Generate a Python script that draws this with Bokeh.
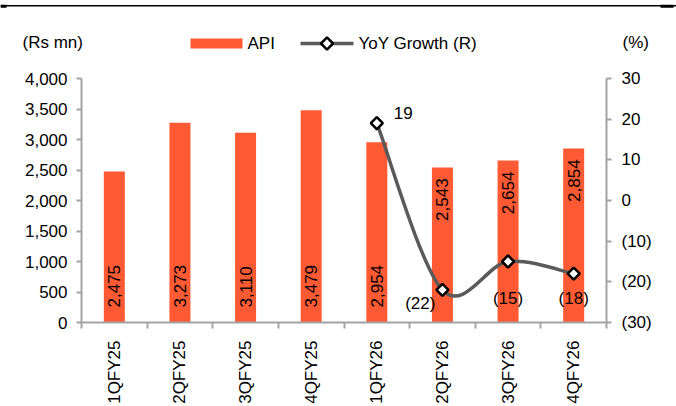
import math

from bokeh.core.properties import value
from bokeh.embed import file_html
from bokeh.layouts import column
from bokeh.models import (ColumnDataSource, FixedTicker, Label, LinearAxis,
                          NumeralTickFormatter, Range1d, Span)
from bokeh.plotting import figure
from bokeh.resources import INLINE

# ---- data -------------------------------------------------------------
quarters = ["1QFY25", "2QFY25", "3QFY25", "4QFY25", "1QFY26", "2QFY26", "3QFY26", "4QFY26"]
api_sales = [2475, 3273, 3110, 3479, 2954, 2543, 2654, 2854]          # Rs mn
yoy_quarters = ["1QFY26", "2QFY26", "3QFY26", "4QFY26"]
yoy_growth = [19, -22, -15, -18]                                       # %
left_ticks = [0, 500, 1000, 1500, 2000, 2500, 3000, 3500, 4000]
right_ticks = [-30, -20, -10, 0, 10, 20, 30]

# ---- style ------------------------------------------------------------
FONT = "Liberation Sans"
FS = "17px"
ORANGE = "#FF5A33"
LINE_GREY = "#5A5A5A"
AXIS_GREY = "#A3A3A3"
BAR_W = 0.32
LINE_W = 3.5
MARK = dict(marker="square", angle=math.pi / 4, size=8.5, fill_color="white",
            line_color="black", line_width=2.5)

W = 676
HEAD_H = 60                      # header strip: rule, unit captions, legend
H = 406 - HEAD_H                 # chart body
FL, FR, FT, FB = 81, 606, 18, 265

# ---- header strip (pixel coordinates, y downwards) -------------------------
head = figure(width=W, height=HEAD_H, output_backend="svg", toolbar_location=None,
              x_range=Range1d(0, W), y_range=Range1d(HEAD_H, 0),
              x_axis_location=None, y_axis_location=None, min_border=0)
head.frame_align = False
head.xgrid.visible = False
head.ygrid.visible = False
head.outline_line_color = None

# top rule with short heavier tabs at both ends
head.add_layout(Span(location=5.2, dimension="width", line_color="black", line_width=1.6))
head.quad(left=[0, 660], right=[6, 673], top=[4.3, 4.3], bottom=[7.3, 7.3],
          fill_color="black", line_color=None)


def head_text(x, y, s):
    head.add_layout(Label(x=x, y=y, text=s, text_font=FONT, text_font_size=FS,
                          text_baseline="middle", text_color="black"))


head_text(22, 42, "(Rs mn)")
head_text(622, 42, "(%)")

# legend keys, drawn with the same styles as the chart glyphs
head.quad(left=[190], right=[242], top=[38], bottom=[48], fill_color=ORANGE, line_color=None)
head_text(247, 43, "API")
head.segment(x0=[300], y0=[43], x1=[353], y1=[43], line_color=LINE_GREY, line_width=LINE_W)
head.scatter(x=[326.5], y=[43], **MARK)
head_text(358, 43, "YoY Growth (R)")

# ---- chart body -------------------------------------------------------------
p = figure(width=W, height=H, output_backend="svg", toolbar_location=None,
           x_range=Range1d(0, len(quarters)), y_range=Range1d(left_ticks[0], left_ticks[-1]),
           min_border_left=FL, min_border_right=W - FR, min_border_top=FT, min_border_bottom=H - FB)
p.frame_align = False
p.extra_y_ranges = {"pct": Range1d(right_ticks[0], right_ticks[-1])}
p.xgrid.visible = False
p.ygrid.visible = False
p.outline_line_color = None


def style_axis(ax):
    ax.axis_line_color = AXIS_GREY
    ax.axis_line_width = 2
    ax.major_tick_line_color = AXIS_GREY
    ax.major_tick_line_width = 2
    ax.minor_tick_line_color = AXIS_GREY
    ax.minor_tick_line_width = 2
    ax.major_tick_in = 0
    ax.minor_tick_in = 0
    ax.major_label_text_font = FONT
    ax.major_label_text_font_size = FS
    ax.major_label_text_color = "black"


# x axis: labels at bar centres, tick marks at category boundaries
centres = [i + 0.5 for i in range(len(quarters))]
xa = p.xaxis[0]
style_axis(xa)
xa.ticker = FixedTicker(ticks=centres, minor_ticks=list(range(len(quarters) + 1)))
xa.major_label_overrides = {c: q for c, q in zip(centres, quarters)}
xa.major_tick_out = 0
xa.minor_tick_out = 6
xa.major_label_orientation = math.pi / 2
xa.major_label_standoff = 12

# left axis: Rs mn
ya = p.yaxis[0]
style_axis(ya)
ya.ticker = FixedTicker(ticks=left_ticks, minor_ticks=[])
ya.formatter = NumeralTickFormatter(format="0,0")
ya.major_tick_out = 5
ya.minor_tick_out = 0
ya.major_label_standoff = 9

# right axis: %
ra = LinearAxis(y_range_name="pct")
style_axis(ra)
ra.ticker = FixedTicker(ticks=right_ticks, minor_ticks=[])
ra.major_label_overrides = {t: (f"({abs(t)})" if t < 0 else str(t)) for t in right_ticks}
ra.major_tick_out = 5
ra.minor_tick_out = 0
ra.major_label_standoff = 10
p.add_layout(ra, "right")

# ---- bars ---------------------------------------------------------------
bar_src = ColumnDataSource(dict(x=centres, top=api_sales))
p.vbar(x="x", top="top", width=BAR_W, source=bar_src, fill_color=ORANGE, line_color=None)

# value labels inside the bars: at the base, or near the top where the line passes low
label_at_top = [False, False, False, False, False, True, True, True]
bl = ColumnDataSource(dict(
    x=centres,
    y=[v if t else 0 for v, t in zip(api_sales, label_at_top)],
    text=[f"{v:,}" for v in api_sales],
    align=["right" if t else "left" for t in label_at_top],
    yoff=[11 if t else -15 for t in label_at_top],
))
p.text(x="x", y="y", text="text", source=bl, angle=math.pi / 2, text_align="align",
       text_baseline="middle", y_offset="yoff", text_font=value(FONT), text_font_size=FS,
       text_color="black")

# ---- smoothed YoY line (Catmull-Rom as cubic Beziers) -----------------
yx = [quarters.index(q) + 0.5 for q in yoy_quarters]
n = len(yx)
seg = dict(x0=[], y0=[], x1=[], y1=[], cx0=[], cy0=[], cx1=[], cy1=[])
for i in range(n - 1):
    a = max(i - 1, 0)
    d = min(i + 2, n - 1)
    seg["x0"].append(yx[i]); seg["y0"].append(yoy_growth[i])
    seg["x1"].append(yx[i + 1]); seg["y1"].append(yoy_growth[i + 1])
    seg["cx0"].append(yx[i] + (yx[i + 1] - yx[a]) / 6)
    seg["cy0"].append(yoy_growth[i] + (yoy_growth[i + 1] - yoy_growth[a]) / 6)
    seg["cx1"].append(yx[i + 1] - (yx[d] - yx[i]) / 6)
    seg["cy1"].append(yoy_growth[i + 1] - (yoy_growth[d] - yoy_growth[i]) / 6)
p.bezier(source=ColumnDataSource(seg), x0="x0", y0="y0", x1="x1", y1="y1",
         cx0="cx0", cy0="cy0", cx1="cx1", cy1="cy1", y_range_name="pct",
         line_color=LINE_GREY, line_width=LINE_W)

p.scatter(x=yx, y=yoy_growth, y_range_name="pct", **MARK)

# YoY value labels with hand-placed offsets
yoy_dx = [17, -7, 0, 0]
yoy_dy = [-10, 14, 37, 25]
yoy_align = ["left", "right", "center", "center"]
yl = ColumnDataSource(dict(x=yx, y=yoy_growth,
                           text=[f"({abs(v)})" if v < 0 else str(v) for v in yoy_growth],
                           dx=yoy_dx, dy=yoy_dy, align=yoy_align))
p.text(x="x", y="y", text="text", source=yl, y_range_name="pct", x_offset="dx", y_offset="dy",
       text_align="align", text_baseline="middle", text_font=value(FONT), text_font_size=FS,
       text_color="black")

layout = column(head, p, spacing=0)
open("out.html", "w").write(file_html(layout, INLINE))
